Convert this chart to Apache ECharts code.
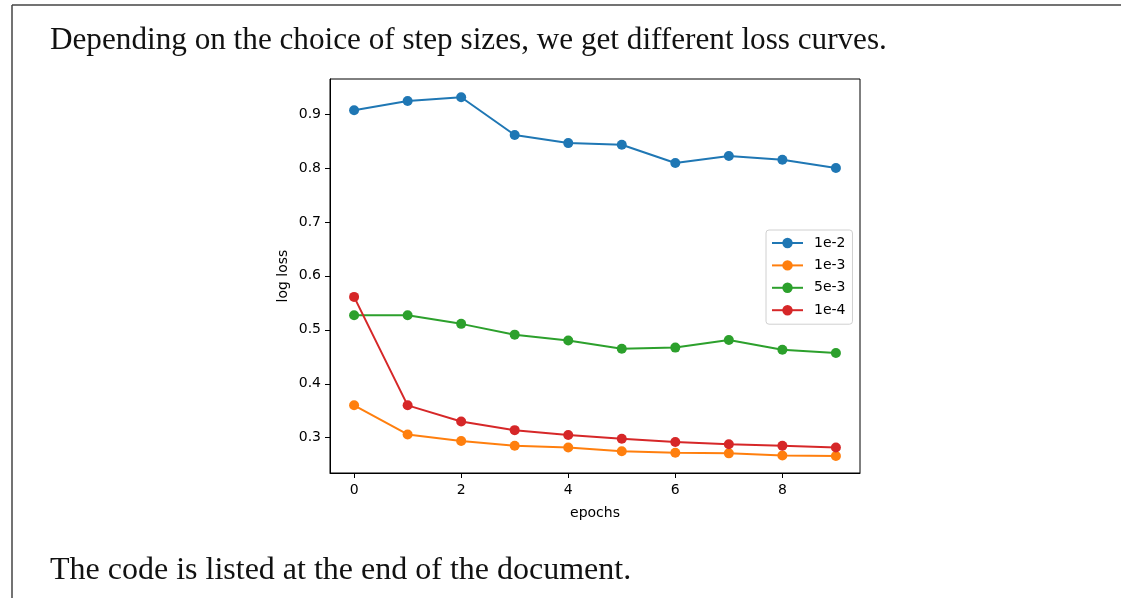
<!DOCTYPE html>
<html>
<head>
<meta charset="utf-8">
<script src="https://cdn.jsdelivr.net/npm/echarts@6/dist/echarts.min.js"></script>
<style>
html,body{margin:0;padding:0;background:#fff;}
#chart{width:1121px;height:598px;}
</style>
</head>
<body>
<div id="chart"></div>
<script>
const epochs = [0, 1, 2, 3, 4, 5, 6, 7, 8, 9];
const seriesNames = ['1e-2', '1e-3', '5e-3', '1e-4'];
const loss_1e2 = [0.907, 0.924, 0.931, 0.861, 0.846, 0.843, 0.809, 0.822, 0.815, 0.800];
const loss_1e3 = [0.360, 0.306, 0.294, 0.285, 0.282, 0.275, 0.272, 0.271, 0.267, 0.266];
const loss_5e3 = [0.527, 0.527, 0.511, 0.491, 0.480, 0.465, 0.467, 0.481, 0.463, 0.457];
const loss_1e4 = [0.561, 0.360, 0.330, 0.314, 0.305, 0.298, 0.292, 0.288, 0.285, 0.282];
const xTicks = [0, 2, 4, 6, 8];
const yTicks = [0.3, 0.4, 0.5, 0.6, 0.7, 0.8, 0.9];
const headText = 'Depending on the choice of step sizes, we get different loss curves.';
const footText = 'The code is listed at the end of the document.';

const colors = ['#1f77b4', '#ff7f0e', '#2ca02c', '#d62728'];
const allData = [loss_1e2, loss_1e3, loss_5e3, loss_1e4];

const chart = echarts.init(document.getElementById('chart'), null, {renderer: 'canvas'});
const tickFont = {fontFamily: 'DejaVu Sans', fontSize: 14, color: '#000'};

chart.setOption({
  animation: false,
  backgroundColor: '#fff',
  color: colors,
  title: [
    {text: headText, left: 50, top: 25, padding: 0,
     textStyle: {fontFamily: 'Liberation Serif', fontSize: 31.2, fontWeight: 'normal', color: '#111'}},
    {text: footText, left: 50, top: 555, padding: 0,
     textStyle: {fontFamily: 'Liberation Serif', fontSize: 32, fontWeight: 'normal', color: '#111'}}
  ],
  graphic: [
    {type: 'line', shape: {x1: 12, y1: 5, x2: 1121, y2: 5}, style: {stroke: '#444', lineWidth: 1.5}},
    {type: 'line', shape: {x1: 12, y1: 5, x2: 12, y2: 598}, style: {stroke: '#444', lineWidth: 1.5}}
  ],
  grid: {left: 330, top: 79, right: 261, bottom: 125, show: true, borderColor: '#000', borderWidth: 1, containLabel: false},
  legend: {
    data: seriesNames,
    left: 766, top: 230,
    orient: 'vertical',
    itemWidth: 31, itemHeight: 13, itemGap: 8.4,
    padding: [6, 7, 7, 5],
    borderColor: '#d0d0d0', borderWidth: 1, borderRadius: 3,
    backgroundColor: 'rgba(255,255,255,0.8)',
    textStyle: {fontFamily: 'DejaVu Sans', fontSize: 14, color: '#000', padding: [0, 0, 0, 6]}
  },
  xAxis: {
    type: 'value', min: -0.45, max: 9.45,
    name: 'epochs', nameLocation: 'middle', nameGap: 33,
    nameTextStyle: {fontFamily: 'DejaVu Sans', fontSize: 14, color: '#000'},
    axisLine: {show: true, onZero: false, lineStyle: {color: '#000', width: 1}},
    axisTick: {show: true, length: 5, lineStyle: {color: '#000'}, customValues: xTicks},
    axisLabel: Object.assign({margin: 10, customValues: xTicks}, tickFont),
    splitLine: {show: false}
  },
  yAxis: {
    type: 'value', min: 0.2346, max: 0.9648,
    name: 'log loss', nameLocation: 'middle', nameGap: 40, nameRotate: 90,
    nameTextStyle: {fontFamily: 'DejaVu Sans', fontSize: 14, color: '#000'},
    axisLine: {show: true, onZero: false, lineStyle: {color: '#000', width: 1}},
    axisTick: {show: true, length: 5, lineStyle: {color: '#000'}, customValues: yTicks},
    axisLabel: Object.assign({margin: 9, customValues: yTicks, formatter: v => v.toFixed(1)}, tickFont),
    splitLine: {show: false}
  },
  series: seriesNames.map((name, i) => ({
    name: name,
    type: 'line',
    data: epochs.map((e, j) => [e, allData[i][j]]),
    symbol: 'circle',
    symbolSize: 10,
    showSymbol: true,
    lineStyle: {width: 2, color: colors[i]},
    itemStyle: {color: colors[i]},
    emphasis: {disabled: true}
  }))
});
</script>
</body>
</html>
